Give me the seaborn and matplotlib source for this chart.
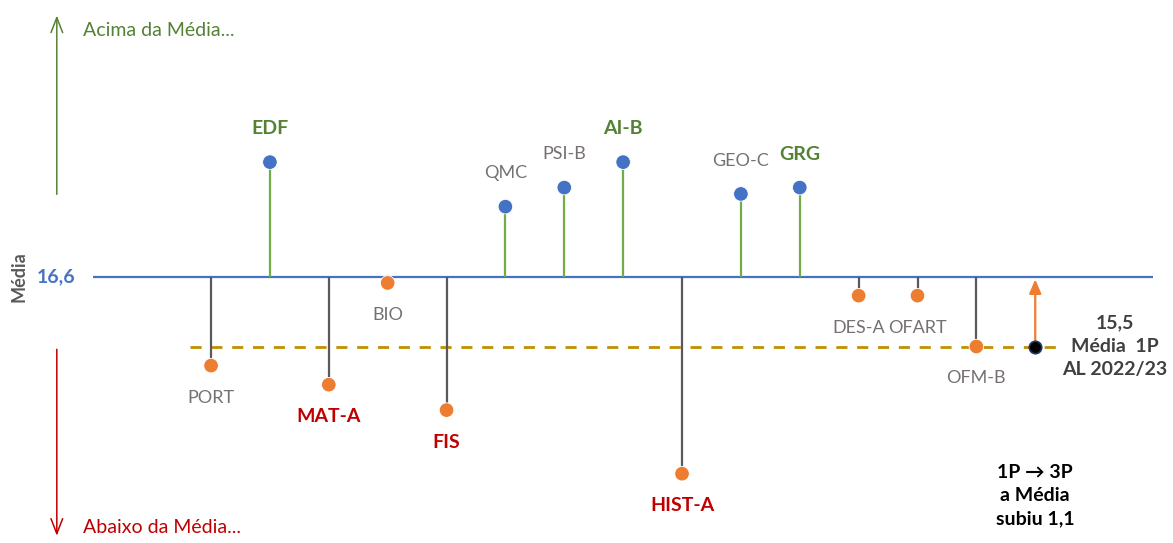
import matplotlib
matplotlib.use("Agg")
import matplotlib.pyplot as plt
import seaborn as sns
import pandas as pd

# medias por disciplina (3P)
disciplinas = ["PORT", "EDF", "MAT-A", "BIO", "FIS", "QMC", "PSI-B", "AI-B",
               "HIST-A", "GEO-C", "GRG", "DES-A", "OFART", "OFM-B"]
medias = [15.2, 18.4, 14.9, 16.5, 14.5, 17.7, 18.0, 18.4,
          13.5, 17.9, 18.0, 16.3, 16.3, 15.5]
destaque = ["EDF", "AI-B", "GRG", "MAT-A", "FIS", "HIST-A"]

media_3p = 16.6
media_1p = 15.5

df = pd.DataFrame({"disc": disciplinas, "media": medias})
df["pos"] = range(len(df))
df["acima"] = df["media"] >= media_3p
pos_1p = len(df)

sns.set_theme(style="white")
plt.rcParams["font.family"] = ["Lato", "DejaVu Sans"]

AZUL = "#4472C4"
LARANJA = "#ED7D31"
VERDE = "#70AD47"
VERDE_TXT = "#548235"
VERMELHO = "#C00000"
CINZA = "#767171"

fig = plt.figure(figsize=(11.73, 5.43), dpi=100)
ax = fig.add_axes([0, 0, 1, 1])

# hastes
for _, r in df.iterrows():
    cor = VERDE if r["acima"] else "#595959"
    ax.vlines(r["pos"], media_3p, r["media"], color=cor, lw=1.6, zorder=1)

# linhas de referencia
ax.hlines(media_3p, -2.0, 16.0, color=AZUL, lw=1.6, zorder=0)
ax.hlines(media_1p, -0.36, 14.35, color="#BF9000", lw=2, ls=(0, (4, 3.5)), zorder=0)

sns.scatterplot(data=df, x="pos", y="media", hue="acima",
                palette={True: AZUL, False: LARANJA}, s=110,
                edgecolor="white", linewidth=0.6, legend=False, ax=ax, zorder=3)

# ponto da media do 1P
ax.scatter([pos_1p], [media_1p], s=80, color="black", edgecolor="#1F3864",
           linewidth=1.2, zorder=4)
ax.annotate("", xy=(pos_1p, media_3p), xytext=(pos_1p, media_1p + 0.05),
            arrowprops=dict(arrowstyle="-|>,head_length=0.7,head_width=0.3",
                            color=LARANJA, lw=1.6), zorder=2)

# rotulos das disciplinas
for _, r in df.iterrows():
    acima = r["acima"]
    bold = r["disc"] in destaque
    if bold:
        cor = VERDE_TXT if acima else VERMELHO
    else:
        cor = CINZA
    off = 24 if acima else -23
    ax.annotate(r["disc"], (r["pos"], r["media"]), xytext=(0, off),
                textcoords="offset points", ha="center", va="center",
                fontsize=14 if bold else 13, color=cor,
                fontweight="bold" if bold else "normal")

# eixo / setas laterais
x_seta = -2.62
ax.annotate("", xy=(x_seta, 20.75), xytext=(x_seta, 17.85),
            arrowprops=dict(arrowstyle="->,head_length=0.9,head_width=0.35",
                            color=VERDE_TXT, lw=1.1))
ax.annotate("", xy=(x_seta, 12.48), xytext=(x_seta, 15.5),
            arrowprops=dict(arrowstyle="->,head_length=0.9,head_width=0.35",
                            color=VERMELHO, lw=1.1))
ax.text(-2.17, 20.47, "Acima da Média...", color=VERDE_TXT, fontsize=14,
        va="center", ha="left")
ax.text(-2.17, 12.66, "Abaixo da Média...", color=VERMELHO, fontsize=14,
        va="center", ha="left")
ax.text(-2.3, media_3p, "16,6", color=AZUL, fontsize=14, fontweight="bold",
        va="center", ha="right")
ax.text(-3.27, media_3p, "Média", color="#595959", fontsize=13,
        fontweight="bold", rotation=90, va="center", ha="center")

# notas a direita
ax.text(15.35, 15.5, "15,5\nMédia  1P\nAL 2022/23", color="#404040",
        fontsize=14, fontweight="bold", ha="center", va="center",
        linespacing=1.45)
ax.text(14.0, 13.16, "1P \u2192 3P\na Média\nsubiu 1,1", color="black",
        fontsize=14, fontweight="bold", ha="center", va="center",
        linespacing=1.45)

ax.set_xlim(-3.585, 16.34)
ax.set_ylim(12.41, 20.95)
ax.axis("off")

fig.savefig("out.png", dpi=100)
